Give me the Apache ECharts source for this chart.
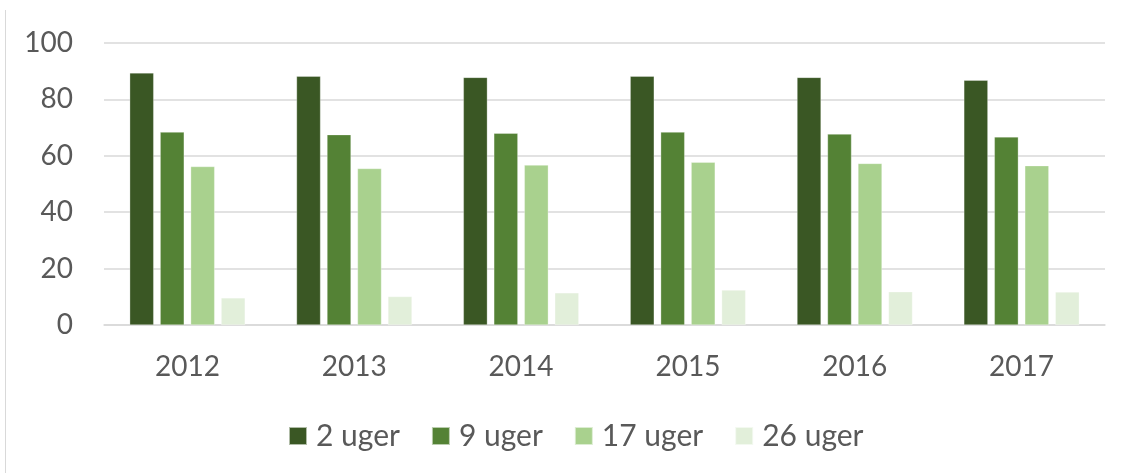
<!DOCTYPE html>
<html>
<head>
<meta charset="utf-8">
<script src="https://cdn.jsdelivr.net/npm/echarts@6/dist/echarts.min.js"></script>
<style>
html,body{margin:0;padding:0;background:#fff;}
#c{width:1126px;height:473px;}
</style>
</head>
<body>
<div id="c"></div>
<script>
const categories = ['2012','2013','2014','2015','2016','2017'];
const seriesNames = ['2 uger','9 uger','17 uger','26 uger'];
const uger2  = [89.4, 88.2, 87.8, 88.2, 87.8, 86.8];
const uger9  = [68.4, 67.5, 68.0, 68.4, 67.7, 66.7];
const uger17 = [56.2, 55.5, 56.7, 57.7, 57.3, 56.5];
const uger26 = [9.6, 10.1, 11.4, 12.4, 11.8, 11.7];
const yTicks = [0, 20, 40, 60, 80, 100];

const colors = ['#3a5724', '#548235', '#a9d18e', '#e2efda'];
const values = [uger2, uger9, uger17, uger26];
const fontFam = 'Lato, "Open Sans", sans-serif';

const chart = echarts.init(document.getElementById('c'));
chart.setOption({
  animation: false,
  backgroundColor: '#fff',
  grid: { left: 104, right: 21, top: 43, bottom: 148, containLabel: false },
  legend: {
    data: seriesNames,
    top: 416,
    left: 283,
    itemWidth: 18, itemHeight: 18, itemGap: 31,
    icon: 'rect',
    textStyle: { color: '#595959', fontSize: 30, fontFamily: fontFam, padding: [0,0,0,4] }
  },
  xAxis: {
    type: 'category',
    data: categories,
    axisLine: { show: true, lineStyle: { color: '#d9d9d9', width: 1.5 } },
    axisTick: { show: false },
    axisLabel: { color: '#595959', fontSize: 28, fontFamily: fontFam, margin: 28 }
  },
  yAxis: {
    type: 'value',
    min: yTicks[0], max: yTicks[yTicks.length-1], interval: 20,
    axisLine: { show: false },
    axisTick: { show: false },
    splitLine: { lineStyle: { color: '#d9d9d9', width: 1.5 } },
    axisLabel: { color: '#595959', fontSize: 28, fontFamily: fontFam, margin: 31 }
  },
  graphic: [{
    type: 'line', shape: { x1: 5.5, y1: 10, x2: 5.5, y2: 473 },
    style: { stroke: '#d9d9d9', lineWidth: 1 }
  }],
  series: seriesNames.map((n, i) => ({
    name: n, type: 'bar', data: values[i],
    barWidth: 24, barGap: '27%',
    itemStyle: { color: colors[i], borderColor: 'rgba(255,255,255,0.6)', borderWidth: 0.5 }
  }))
});
</script>
</body>
</html>
